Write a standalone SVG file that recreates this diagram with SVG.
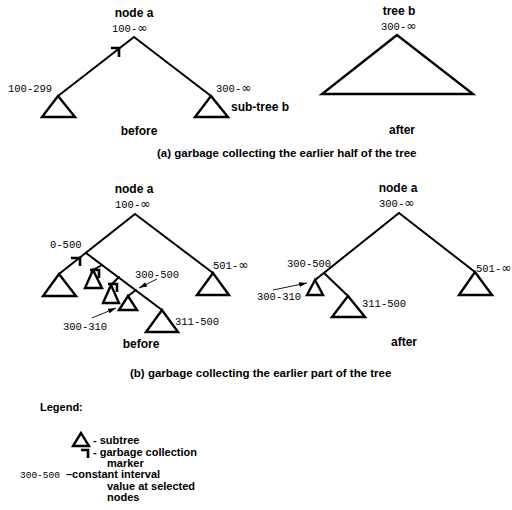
<svg xmlns="http://www.w3.org/2000/svg" width="512" height="510" viewBox="0 0 512 510">
  <style>
    .lbl { font-family: "Liberation Sans", Arial, sans-serif; font-weight: bold; font-size: 12px; fill: #000; }
    .cap { font-family: "Liberation Sans", Arial, sans-serif; font-weight: bold; font-size: 11.5px; fill: #000; }
    .leg { font-family: "Liberation Sans", Arial, sans-serif; font-weight: bold; font-size: 11px; fill: #000; }
    .num { font-family: "Liberation Mono", "DejaVu Sans Mono", monospace; font-size: 10.5px; fill: #000; }
    .inf { font-family: "DejaVu Sans", sans-serif; font-size: 12.5px; }
    .edge { stroke: #000; stroke-width: 2; fill: none; stroke-linecap: round; }
    .tri { stroke: #000; stroke-width: 2.4; fill: #fff; stroke-linejoin: miter; }
    .gc { stroke: #000; stroke-width: 2.6; fill: none; stroke-linejoin: miter; }
    .ptr { stroke: #000; stroke-width: 0.9; fill: none; }
  </style>
  <defs>
    <marker id="ah" viewBox="0 0 10 6" refX="10" refY="3" markerWidth="8" markerHeight="5" orient="auto" markerUnits="userSpaceOnUse">
      <path d="M0,0 L10,3 L0,6 Z" fill="#000"/>
    </marker>
  </defs>

  <g id="connectors">
    <!-- (a) before -->
    <line class="edge" x1="134" y1="37" x2="58" y2="96"/>
    <line class="edge" x1="134" y1="37" x2="211" y2="96"/>
    <!-- (b) before -->
    <line class="edge" x1="135" y1="214" x2="59" y2="274"/>
    <line class="edge" x1="135" y1="214" x2="213" y2="273"/>
    <line class="edge" x1="86" y1="253" x2="162" y2="310"/>
    <line class="edge" x1="102" y1="265" x2="93" y2="270"/>
    <line class="edge" x1="119" y1="277" x2="111" y2="285"/>
    <line class="edge" x1="136" y1="290" x2="128" y2="296"/>
    <!-- (b) after -->
    <line class="edge" x1="399" y1="213" x2="315" y2="280"/>
    <line class="edge" x1="399" y1="213" x2="475" y2="272"/>
    <line class="edge" x1="324" y1="273" x2="348" y2="296"/>
    <!-- pointer arrows to labelled nodes -->
    <line class="ptr" x1="157" y1="279" x2="139" y2="288" marker-end="url(#ah)"/>
    <line class="ptr" x1="92" y1="318" x2="116" y2="308" marker-end="url(#ah)"/>
    <line class="ptr" x1="273" y1="290" x2="307" y2="283" marker-end="url(#ah)"/>
  </g>

  <!-- (a) before -->
  <g id="node-a-before-a">
    <text class="lbl" x="134" y="17" text-anchor="middle">node a</text>
    <text class="num" x="112" y="32">100-<tspan class="inf">∞</tspan></text>
    <path class="gc" d="M111,48 H119 V57"/>
  </g>
  <g id="subtree-left-a">
    <polygon class="tri" points="58,96 42,117 75,117"/>
    <text class="num" x="8" y="92">100-299</text>
  </g>
  <g id="subtree-b-a">
    <polygon class="tri" points="211,96 195,117 228,117"/>
    <text class="num" x="216" y="92">300-<tspan class="inf">∞</tspan></text>
    <text class="lbl" x="231" y="111">sub-tree b</text>
  </g>
  <text class="lbl" x="139" y="135" text-anchor="middle">before</text>

  <!-- (a) after -->
  <g id="tree-b-after-a">
    <text class="lbl" x="399" y="15" text-anchor="middle">tree b</text>
    <text class="num" x="381" y="30">300-<tspan class="inf">∞</tspan></text>
    <polygon class="tri" points="397,35 322,94 473,94"/>
  </g>
  <text class="lbl" x="402" y="134" text-anchor="middle">after</text>
  <text class="cap" x="157" y="157">(a) garbage collecting the earlier half of the tree</text>

  <!-- (b) before -->
  <g id="node-a-before-b">
    <text class="lbl" x="134" y="193" text-anchor="middle">node a</text>
    <text class="num" x="115" y="208">100-<tspan class="inf">∞</tspan></text>
  </g>
  <g id="node-0-500">
    <text class="num" x="50" y="248">0-500</text>
    <path class="gc" d="M71,258 H80 V266"/>
  </g>
  <g id="subtree-0-b">
    <polygon class="tri" points="59,274 43,296 76,296"/>
  </g>
  <g id="subtree-1-b">
    <polygon class="tri" points="93,270 85,288 102,288"/>
    <path class="gc" d="M90,270 H99 V278"/>
  </g>
  <g id="subtree-2-b">
    <polygon class="tri" points="111,285 103,303 119,303"/>
    <path class="gc" d="M108,284 H117 V292"/>
  </g>
  <g id="subtree-300-310-b">
    <polygon class="tri" points="128,296 119,310 137,310"/>
    <text class="num" x="63" y="330">300-310</text>
  </g>
  <g id="node-300-500-b">
    <text class="num" x="135" y="278">300-500</text>
  </g>
  <g id="subtree-311-500-b">
    <polygon class="tri" points="162,310 146,332 178,332"/>
    <text class="num" x="175" y="325">311-500</text>
  </g>
  <g id="subtree-501-b">
    <polygon class="tri" points="213,273 197,295 229,295"/>
    <text class="num" x="213" y="269">501-<tspan class="inf">∞</tspan></text>
  </g>
  <text class="lbl" x="141" y="348" text-anchor="middle">before</text>

  <!-- (b) after -->
  <g id="node-a-after-b">
    <text class="lbl" x="398" y="192" text-anchor="middle">node a</text>
    <text class="num" x="379" y="207">300-<tspan class="inf">∞</tspan></text>
  </g>
  <g id="node-300-500-after">
    <text class="num" x="287" y="267">300-500</text>
  </g>
  <g id="subtree-300-310-after">
    <polygon class="tri" points="315,280 307,295 323,295"/>
    <text class="num" x="257" y="300">300-310</text>
  </g>
  <g id="subtree-311-500-after">
    <polygon class="tri" points="348,296 332,317 365,317"/>
    <text class="num" x="362" y="307">311-500</text>
  </g>
  <g id="subtree-501-after">
    <polygon class="tri" points="475,272 459,295 492,295"/>
    <text class="num" x="476" y="272">501-<tspan class="inf">∞</tspan></text>
  </g>
  <text class="lbl" x="404" y="346" text-anchor="middle">after</text>
  <text class="cap" x="130" y="377">(b) garbage collecting the earlier part of the tree</text>

  <!-- legend -->
  <g id="legend">
    <text class="leg" x="40" y="411">Legend:</text>
    <polygon class="tri" points="81,433 73,446 89,446"/>
    <text class="leg" x="93" y="444">- subtree</text>
    <path class="gc" d="M81,450 H88 V458"/>
    <text class="leg" x="93" y="455.5">- garbage collection</text>
    <text class="leg" x="107" y="466.5">marker</text>
    <text class="num" x="20" y="478" style="font-size:9.5px">300-500</text>
    <text class="leg" x="66" y="478">–constant interval</text>
    <text class="leg" x="107" y="489.5">value at selected</text>
    <text class="leg" x="107" y="501">nodes</text>
  </g>
</svg>
